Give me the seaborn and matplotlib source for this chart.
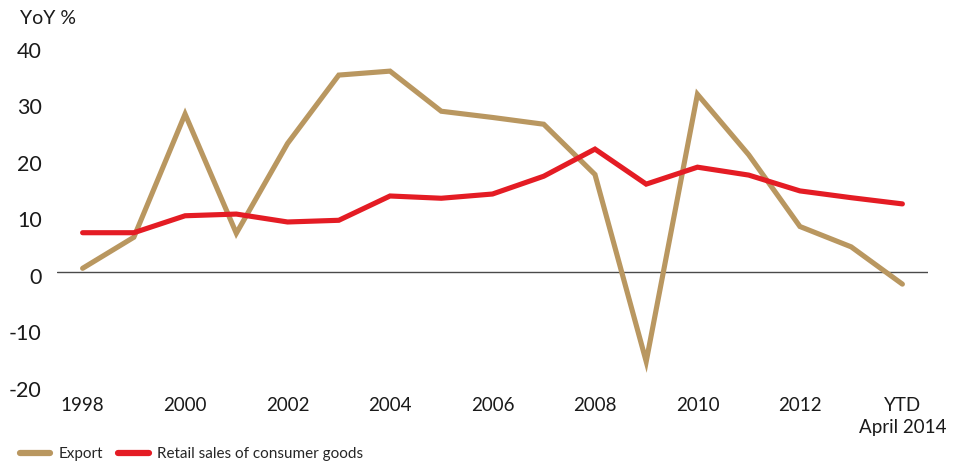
import matplotlib
matplotlib.use("Agg")
import matplotlib.pyplot as plt
import matplotlib.transforms as mtransforms
from matplotlib.lines import Line2D
import seaborn as sns
import pandas as pd

periods = ["1998", "1999", "2000", "2001", "2002", "2003", "2004", "2005", "2006",
           "2007", "2008", "2009", "2010", "2011", "2012", "2013", "YTD\nApril 2014"]
export = [0.6, 6.1, 27.9, 6.8, 22.7, 34.8, 35.5, 28.4, 27.3, 26.1, 17.2, -15.9,
          31.4, 20.7, 8.0, 4.4, -2.2]
retail = [6.9, 6.9, 9.9, 10.2, 8.8, 9.1, 13.4, 13.0, 13.75, 16.9, 21.7, 15.5,
          18.5, 17.1, 14.3, 13.1, 12.0]
series_names = ["Export", "Retail sales of consumer goods"]
tick_labels = ["1998", "2000", "2002", "2004", "2006", "2008", "2010", "2012", "YTD\nApril 2014"]
y_ticks = [-20, -10, 0, 10, 20, 30, 40]

sns.set_theme(style="white")
plt.rcParams['font.family'] = ['Lato', 'DejaVu Sans']

df = pd.DataFrame({
    "idx": list(range(len(periods))) * 2,
    "value": export + retail,
    "series": [series_names[0]] * len(export) + [series_names[1]] * len(retail),
})

fig = plt.figure(figsize=(9.62, 4.66), dpi=100)
W, H = 962, 466
ax = fig.add_axes([57 / W, 1 - 384.7 / H, (928 - 57) / W, (384.7 - 45.7) / H])

palette = {series_names[0]: "#B99760", series_names[1]: "#E41C24"}
sns.lineplot(data=df, x="idx", y="value", hue="series", palette=palette,
             linewidth=3.7, ax=ax, legend=False, sort=False)
for l in ax.lines:
    l.set_solid_capstyle("round")
    l.set_solid_joinstyle("miter")

ax.axhline(0, color="#4a4a4a", linewidth=1.0, zorder=1)
ax.set_xlim(-0.5, len(periods) - 0.5)
ax.set_ylim(-20, 40)
for s in ax.spines.values():
    s.set_visible(False)
ax.set_xlabel("")
ax.set_ylabel("")

xt = [periods.index(t) for t in tick_labels]
ax.set_xticks(xt)
ax.set_xticklabels(tick_labels, fontsize=13.5, color="#1a1a1a", linespacing=1.35)
ax.tick_params(axis="x", length=0, pad=9)
ax.set_yticks(y_ticks)
ax.set_yticklabels([str(v) for v in y_ticks], fontsize=15.5, color="#1a1a1a")
ax.tick_params(axis="y", length=0, pad=11)
off = mtransforms.ScaledTranslation(0, -4 / 100, fig.dpi_scale_trans)
for lab in ax.get_yticklabels():
    lab.set_transform(lab.get_transform() + off)
    lab.set_horizontalalignment("right")

fig.text(20 / W, 1 - 18 / H, "YoY %", fontsize=14, color="#1a1a1a", va="center", ha="left")

handles = [Line2D([0], [0], color=palette[n], linewidth=4.5) for n in series_names]
fig.legend(handles, series_names, loc="center left", bbox_to_anchor=(6 / W, 1 - 454 / H),
           ncol=2, frameon=False, handlelength=2.0, handletextpad=0.55,
           columnspacing=1.0, prop={"family": ["Lato", "DejaVu Sans"], "size": 11})

fig.savefig("out.png", dpi=100)
